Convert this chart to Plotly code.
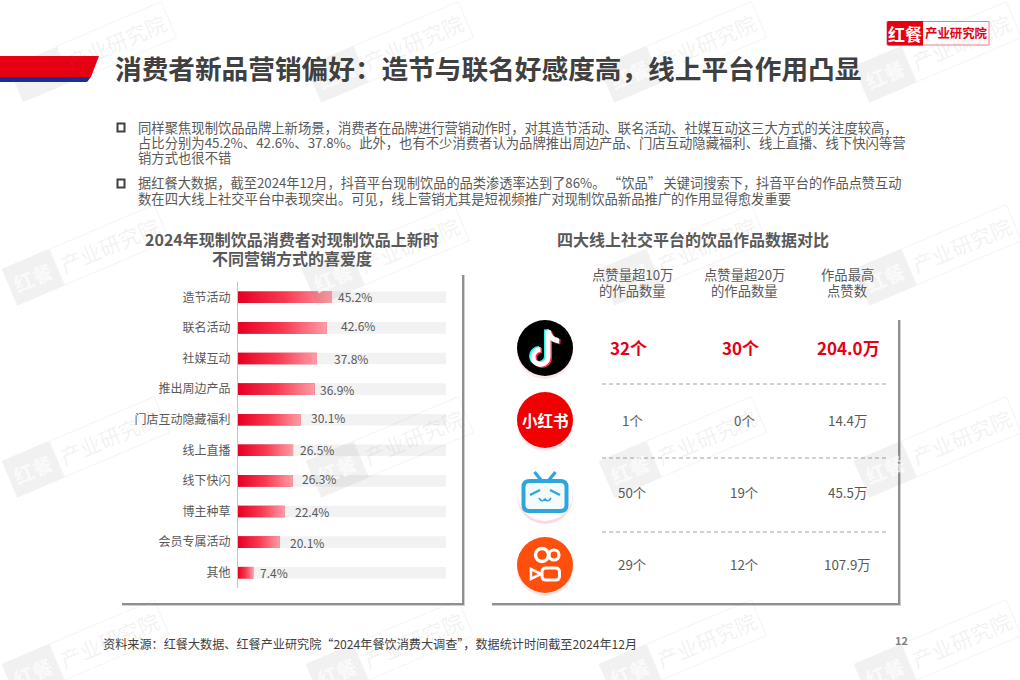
import math
import plotly.graph_objects as go

# ---------- data ----------
categories = ["造节活动", "联名活动", "社媒互动", "推出周边产品", "门店互动隐藏福利",
              "线上直播", "线下快闪", "博主种草", "会员专属活动", "其他"]
values = [45.2, 42.6, 37.8, 36.9, 30.1, 26.5, 26.3, 22.4, 20.1, 7.4]
full_scale = [100] * 10
columns = [["点赞量超10万", "的作品数量"], ["点赞量超20万", "的作品数量"], ["作品最高", "点赞数"]]
table_rows = [["32个", "30个", "204.0万"],
              ["1个", "0个", "14.4万"],
              ["50个", "19个", "45.5万"],
              ["29个", "12个", "107.9万"]]
title_text = "消费者新品营销偏好：造节与联名好感度高，线上平台作用凸显"
body_lines = [
    "同样聚焦现制饮品品牌上新场景，消费者在品牌进行营销动作时，对其造节活动、联名活动、社媒互动这三大方式的关注度较高，",
    "占比分别为45.2%、42.6%、37.8%。此外，也有不少消费者认为品牌推出周边产品、门店互动隐藏福利、线上直播、线下快闪等营",
    "销方式也很不错",
    "据红餐大数据，截至2024年12月，抖音平台现制饮品的品类渗透率达到了86%。\u2009“饮品”\u2009关键词搜索下，抖音平台的作品点赞互动",
    "数在四大线上社交平台中表现突出。可见，线上营销尤其是短视频推广对现制饮品新品推广的作用显得愈发重要",
]
source_text = "资料来源：红餐大数据、红餐产业研究院“2024年餐饮消费大调查”，数据统计时间截至2024年12月"

# ---------- style ----------
W, H = 1020, 680
FONT = "Noto Sans CJK SC"
TEXT = "#595959"
DARK = "#404040"
RED = "#e60012"
label_dx = [5, 13, 16, 4, 9, 6, 8, 9, 9, 6]
label_dy = [1, 2, 0, 0, 2, 1, 2, 0, 0, 0]
BAR_H = 0.19


def X(p):
    return p / W


def Y(p):
    return 1 - p / H


def path(cmds):
    """cmds: list of (letter, [px, py, ...]) in pixels; converted to paper coordinates."""
    out = []
    for c, a in cmds:
        if c == "Z":
            out.append("Z")
        else:
            out.append(c + " ".join(f"{X(a[i])},{Y(a[i+1])}" for i in range(0, len(a), 2)))
    return " ".join(out)


shapes = []
annos = []


def rect(x0, y0, x1, y1, fill, line=None, lw=0, layer="below"):
    shapes.append(dict(type="rect", xref="paper", yref="paper", x0=X(x0), x1=X(x1), y0=Y(y1), y1=Y(y0),
                       fillcolor=fill, line=dict(color=line or fill, width=lw), layer=layer))


def circle(cx, cy, r, fill, line=None, lw=0):
    shapes.append(dict(type="circle", xref="paper", yref="paper", x0=X(cx - r), x1=X(cx + r),
                       y0=Y(cy + r), y1=Y(cy - r), fillcolor=fill,
                       line=dict(color=line or fill, width=lw), layer="above"))


def poly(pts, fill, layer="below"):
    cmds = [("M", list(pts[0]))] + [("L", list(p)) for p in pts[1:]] + [("Z", [])]
    shapes.append(dict(type="path", xref="paper", yref="paper", path=path(cmds), fillcolor=fill,
                       line=dict(width=0), layer=layer))


def stroke(pts_path, color, lw, fill="rgba(0,0,0,0)"):
    shapes.append(dict(type="path", xref="paper", yref="paper", path=path(pts_path), fillcolor=fill,
                       line=dict(color=color, width=lw), layer="above"))


def text(x, y, s, size, color=TEXT, bold=False, anchor="center", angle=0, **kw):
    if anchor == "left":
        x -= 2
    annos.append(dict(xref="paper", yref="paper", x=X(x), y=Y(y), text=f"<b>{s}</b>" if bold else s,
                      showarrow=False, xanchor=anchor, yanchor="middle", textangle=angle,
                      font=dict(family=FONT, size=size, color=color), **kw))


def round_rect(x0, y0, x1, y1, r):
    return [("M", [x0 + r, y0]), ("L", [x1 - r, y0]), ("Q", [x1, y0, x1, y0 + r]),
            ("L", [x1, y1 - r]), ("Q", [x1, y1, x1 - r, y1]), ("L", [x0 + r, y1]),
            ("Q", [x0, y1, x0, y1 - r]), ("L", [x0, y0 + r]), ("Q", [x0, y0, x0 + r, y0]), ("Z", [])]


# ---------- watermarks ----------
ANG = 23
ca, sa = math.cos(math.radians(ANG)), math.sin(math.radians(ANG))
for n, (cx, cy) in enumerate([(93, 52), (390, 52), (683, 52), (938, 52),
                              (86, 255), (386, 255), (683, 255), (938, 255),
                              (86, 447), (390, 447), (683, 447), (938, 447),
                              (86, 650), (390, 650), (683, 650), (938, 650)]):
    x1, y1 = cx - 58 * ca, cy + 58 * sa
    if n == 0:
        # this one sits behind the red header band
        hw, hh = 26, 19
        poly([(x1 + a * ca + b * sa, y1 - a * sa + b * ca)
              for a, b in [(-hw, -hh), (hw, -hh), (hw, hh), (-hw, hh)]], "rgba(120,120,120,0.10)")
    else:
        annos.append(dict(xref="paper", yref="paper", x=X(x1), y=Y(y1), text="<b>红餐</b>", showarrow=False,
                          textangle=-ANG, xanchor="center", yanchor="middle", bgcolor="rgba(120,120,120,0.10)",
                          borderpad=5, font=dict(family=FONT, size=20, color="rgba(255,255,255,0.7)")))
    x2, y2 = cx + 25 * ca, cy - 25 * sa
    annos.append(dict(xref="paper", yref="paper", x=X(x2), y=Y(y2), text="产业研究院", showarrow=False,
                      textangle=-ANG, xanchor="center", yanchor="middle", bordercolor="rgba(120,120,120,0.08)",
                      borderwidth=1, borderpad=4, font=dict(family=FONT, size=21, color="rgba(120,120,120,0.10)")))

# ---------- header ----------
poly([(0, 77), (91, 77), (87, 82), (0, 82)], "#1c2f8f")
poly([(0, 56), (99, 56), (91, 77), (0, 77)], "#e60012")
text(115, 68, title_text, 26.67, DARK, True, "left")

rect(887, 21.5, 989, 45, "#ffffff", "#ee7f88", 1)
shapes.append(dict(type="path", xref="paper", yref="paper", line=dict(width=0), fillcolor=RED, layer="below",
                   path=path([("M", [889, 21]), ("L", [923, 21]), ("L", [923, 45.5]), ("L", [889, 45.5]),
                              ("Q", [887, 45.5, 887, 43]), ("L", [887, 24]), ("Q", [887, 21, 889, 21]), ("Z", [])])))
text(905, 33, "红餐", 17, "#ffffff", True)
text(956, 33, "产业研究院", 12.4, RED, True)

# ---------- body ----------
for y in (127.5, 183.5):
    rect(117.5, y - 4, 124.5, y + 4, "rgba(0,0,0,0)", DARK, 2)
for y, line, size in zip((127, 142, 157, 183, 198), body_lines, (13.33, 13.33, 13.33, 13.22, 13.33)):
    text(138, y, line, size, TEXT, False, "left")

# ---------- cards ----------
for x0, y0, x1, y1 in [(120, 273, 462, 603), (490, 318, 898, 603)]:
    rect(x0 + 2, y0 + 2, x1 + 3, y1 + 3, "#d0d0d0", layer="below")
    rect(x0 + 2, y0 + 2, x1 + 2, y1 + 2, "#8f8f8f", layer="below")
    rect(x0, y0, x1, y1, "#ffffff", layer="below")

# ---------- chart titles ----------
text(292, 239, "2024年现制饮品消费者对现制饮品上新时", 16, TEXT, True)
text(292, 258, "不同营销方式的喜爱度", 16, TEXT, True)
text(693, 239, "四大线上社交平台的饮品作品数据对比", 16, TEXT, True)

# ---------- table ----------
col_x = [632, 744, 847]
row_y = [347, 420, 492, 564]
for cx, (a, b) in zip(col_x, columns):
    text(cx, 274, a, 13.33)
    text(cx, 290, b, 13.33)
for r, (ry, row) in enumerate(zip(row_y, table_rows)):
    for c, (cx, val) in enumerate(zip(col_x, row)):
        if r == 0:
            text(cx + (-3.5 if c < 2 else 1), ry, val, 17, RED, True)
        else:
            text(cx, ry, val, 13.33)
for y in (384, 458, 532):
    shapes.append(dict(type="line", xref="paper", yref="paper", x0=X(602), x1=X(886), y0=Y(y), y1=Y(y),
                       line=dict(color="#8c8c8c", width=0.8, dash="4px,3px"), layer="above"))

# ---------- icons ----------
IX = 545
K = 0.5523
# Douyin
cy = 348
circle(IX, cy + 3, 28, "rgba(255,170,175,0.30)")
circle(IX, cy, 28, "#000000")


def note(dx, dy, color):
    ox, oy = IX + dx, cy + dy
    bx, by, r = ox - 4.5, oy + 9, 7.5
    c = K * r
    stroke([("M", [ox + 3, oy - 17.5]), ("L", [ox + 3, by]),
            ("C", [ox + 3, by + c, bx + c, by + r, bx, by + r]),
            ("C", [bx - c, by + r, bx - r, by + c, bx - r, by]),
            ("C", [bx - r, by - c, bx - c, by - r, bx, by - r])], color, 5)
    stroke([("M", [ox + 3, oy - 17.5]), ("Q", [ox + 5, oy - 8, ox + 14, oy - 7])], color, 5)


note(-1.5, -1, "#25f4ee")
note(1.5, 1, "#fe2c55")
note(0, 0, "#ffffff")
# Xiaohongshu
cy = 420
circle(IX, cy + 3, 28, "rgba(255,170,175,0.30)")
circle(IX, cy, 28, "#f00000")
text(IX, cy, "小红书", 15.5, "#ffffff", True)
# Bilibili
cy = 493
circle(IX, cy + 3, 28, "rgba(255,170,185,0.45)")
circle(IX, cy, 28, "#ffffff")
BLUE = "#2ea6dc"
stroke(round_rect(IX - 21.5, cy - 12, IX + 21.5, cy + 18, 6), BLUE, 4, "#f4fbfe")
for s in (-1, 1):
    stroke([("M", [IX + s * 10.5, cy - 21]), ("L", [IX + s * 4, cy - 13])], BLUE, 3.2)
    stroke([("M", [IX + s * 15, cy + 2]), ("L", [IX + s * 5, cy - 3])], BLUE, 2.4)
stroke([("M", [IX - 6, cy + 5]), ("Q", [IX - 3, cy + 10, IX, cy + 6]), ("Q", [IX + 3, cy + 10, IX + 6, cy + 5])], BLUE, 1.6)
# Kuaishou
cy = 565
circle(IX, cy + 3, 28, "rgba(255,170,175,0.30)")
circle(IX, cy, 28, "#fe4f0d")
circle(IX - 3, cy - 10, 6.5, "rgba(0,0,0,0)", "#ffffff", 3.4)
circle(IX + 9, cy - 10, 5, "rgba(0,0,0,0)", "#ffffff", 3.2)
stroke(round_rect(IX - 3, cy + 3, IX + 14.5, cy + 15, 4), "#ffffff", 3, "#fe4f0d")
stroke([("M", [IX - 4, cy + 9]), ("L", [IX - 14, cy + 4]), ("L", [IX - 14, cy + 14]), ("Z", [])], "#ffffff", 2.6)

# ---------- footer ----------
text(103, 643, source_text, 12.13, DARK, False, "left")
text(901, 640, "12", 11, "#7f7f7f", True)

# ---------- chart ----------
idx = list(range(len(categories)))
fig = go.Figure()
fig.add_trace(go.Bar(x=full_scale, y=idx, orientation="h", width=2 * BAR_H, marker=dict(color="#f2f2f2", line_width=0),
                     hoverinfo="skip", showlegend=False))
fig.add_trace(go.Bar(x=values, y=idx, orientation="h", width=2 * BAR_H, marker=dict(color="#f0404f", line_width=0),
                     base=0, showlegend=False))
for i, v in zip(idx, values):
    fig.add_trace(go.Scatter(x=[0, v, v, 0, 0], y=[i - BAR_H, i - BAR_H, i + BAR_H, i + BAR_H, i - BAR_H],
                             mode="lines", fill="toself", line=dict(width=0), hoverinfo="skip", showlegend=False,
                             fillgradient=dict(type="horizontal",
                                               colorscale=[[0, "#e60023"], [0.5, "#f8394f"], [1, "#ff9da6"]])))
for i, v, dx, dy in zip(idx, values, label_dx, label_dy):
    annos.append(dict(xref="x", yref="y", x=v, y=i, text=f"{v}%", showarrow=False, xanchor="left", yanchor="middle",
                      xshift=dx, yshift=dy, borderpad=0, font=dict(family=FONT, size=12, color=TEXT)))

fig.update_layout(
    width=W, height=H, autosize=False, margin=dict(l=0, r=0, t=0, b=0),
    paper_bgcolor="#ffffff", plot_bgcolor="rgba(0,0,0,0)", barmode="overlay", showlegend=False,
    font=dict(family=FONT, color=TEXT),
    xaxis=dict(domain=[X(238), X(446)], range=[0, 100], visible=False, fixedrange=True),
    yaxis=dict(domain=[Y(588), Y(282)], range=[9.5, -0.5], tickmode="array", tickvals=idx, ticktext=categories,
               showgrid=False, zeroline=False, showline=True, linecolor="#c4c4c4", linewidth=1, ticks="",
               ticklabelstandoff=4, tickfont=dict(family=FONT, size=12, color=TEXT), fixedrange=True),
    shapes=shapes, annotations=annos,
)
fig.write_html("out.html", post_script="document.body.style.margin='0';", config=dict(displayModeBar=False))
